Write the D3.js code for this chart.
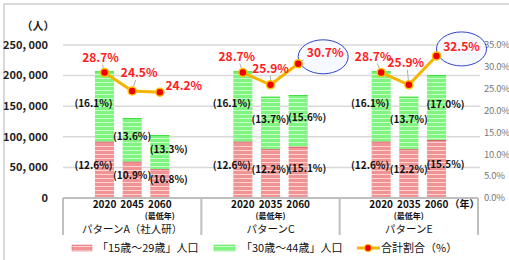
<!DOCTYPE html>
<html>
<head>
<meta charset="utf-8">
<script src="https://cdn.jsdelivr.net/npm/d3@7"></script>
<style>
  body { margin: 0; background: #fff; }
  svg { display: block; font-family: "Noto Sans CJK JP", "DejaVu Sans", sans-serif; }
</style>
</head>
<body>
<div id="chart"></div>
<script>
// chart data
const years = ['2020', '2045', '2060', '2020', '2035', '2060', '2020', '2035', '2060'];
const groupNames = ['パターンA（社人研）', 'パターンC', 'パターンE'];
const lowestYear = [false, false, true, false, true, false, false, true, false];
const youngPop = [92000, 59300, 46900, 92000, 79600, 83800, 92000, 79600, 94800];   // 15-29
const midPop = [115000, 71400, 56000, 115000, 85900, 84500, 115000, 85900, 106200];  // 30-44
const youngPct = ['12.6', '10.9', '10.8', '12.6', '12.2', '15.1', '12.6', '12.2', '15.5'];
const midPct = ['16.1', '13.6', '13.3', '16.1', '13.7', '15.6', '16.1', '13.7', '17.0'];
const totalPct = [28.7, 24.5, 24.2, 28.7, 25.9, 30.7, 28.7, 25.9, 32.5];
const leftTicks = [0, 50000, 100000, 150000, 200000, 250000];
const rightTicks = [0, 5, 10, 15, 20, 25, 30, 35];
const legendNames = ['「15歳～29歳」人口', '「30歳～44歳」人口', '合計割合（%）'];

const W = 509, H = 260;
const svg = d3.select('#chart').append('svg').attr('width', W).attr('height', H);

// outer frame
svg.append('rect').attr('x', 4).attr('y', 4).attr('width', 520).attr('height', 270)
    .attr('fill', 'none').attr('stroke', '#d9d9d9').attr('stroke-width', 2);

// stripe patterns
const defs = svg.append('defs');
function stripes(id, base) {
    const p = defs.append('pattern').attr('id', id).attr('patternUnits', 'userSpaceOnUse')
        .attr('width', 6).attr('height', 4);
    p.append('rect').attr('width', 6).attr('height', 4).attr('fill', base);
    p.append('rect').attr('y', 2).attr('width', 6).attr('height', 1).attr('fill', '#fff').attr('opacity', 0.6);
}
stripes('redStripe', '#f29393');
stripes('greenStripe', '#7ef57e');

const plotL = 63, plotR = 478, plotT = 45, plotB = 198;

// 15 slots: blank, 3 bars, blank per group
const slotOf = i => Math.floor(i / 3) * 5 + 1 + (i % 3);
const x = d3.scaleBand().domain(d3.range(15)).range([plotL, plotR]).paddingInner(0.31).paddingOuter(0.155);
const y = d3.scaleLinear().domain([0, 250000]).range([plotB, plotT]);
const y2 = d3.scaleLinear().domain([0, 35]).range([plotB, plotT]);
const cx = i => x(slotOf(i)) + x.bandwidth() / 2;

// gridlines
svg.append('g').selectAll('line').data(leftTicks.filter(d => d > 0)).join('line')
    .attr('x1', plotL).attr('x2', plotR + 2)
    .attr('y1', d => y(d)).attr('y2', d => y(d))
    .attr('stroke', '#d9d9d9').attr('stroke-width', 1.5);

// left axis labels
const fmt = d => d === 0 ? '0' : d3.format(',')(d).replace(',', ', ');
svg.append('g').selectAll('text').data(leftTicks).join('text')
    .attr('x', 48).attr('y', d => y(d)).attr('dy', '0.35em')
    .attr('text-anchor', 'end').attr('font-size', 11).attr('font-weight', 'bold').attr('fill', '#222')
    .text(fmt);
svg.append('text').attr('x', 38).attr('y', 26).attr('dy', '0.35em').attr('text-anchor', 'middle')
    .attr('font-size', 11).attr('font-weight', 'bold').attr('fill', '#222').text('（人）');

// right axis labels, squeezed to fit the window edge
svg.append('g').selectAll('text').data(rightTicks).join('text')
    .attr('x', 484).attr('y', d => y2(d)).attr('dy', '0.35em')
    .attr('font-size', 9.5).attr('letter-spacing', -0.3).attr('fill', '#777')
    .text(d => d.toFixed(1) + '%');

// bars
const bars = svg.append('g');
years.forEach((yr, i) => {
    const bx = x(slotOf(i)), bw = x.bandwidth();
    const yTop = y(youngPop[i]);
    const tTop = y(youngPop[i] + midPop[i]);
    bars.append('rect').attr('x', bx).attr('y', yTop).attr('width', bw).attr('height', plotB - yTop)
        .attr('fill', 'url(#redStripe)');
    bars.append('rect').attr('x', bx).attr('y', tTop).attr('width', bw).attr('height', yTop - tTop)
        .attr('fill', 'url(#greenStripe)');
    bars.append('line').attr('x1', bx).attr('x2', bx + bw).attr('y1', yTop + 0.5).attr('y2', yTop + 0.5)
        .attr('stroke', '#e06070').attr('stroke-width', 1);
    bars.append('line').attr('x1', bx).attr('x2', bx + bw).attr('y1', tTop + 0.5).attr('y2', tTop + 0.5)
        .attr('stroke', '#44dd44').attr('stroke-width', 1);
});

// bar share labels
const shift = [-11, 0, 9];
const segLabels = svg.append('g').attr('font-size', 10).attr('font-weight', 'bold').attr('fill', '#111')
    .attr('text-anchor', 'middle');
years.forEach((yr, i) => {
    const yTop = y(youngPop[i]);
    const tTop = y(youngPop[i] + midPop[i]);
    segLabels.append('text').attr('x', cx(i) + shift[i % 3]).attr('y', (tTop + yTop) / 2 - 3)
        .attr('dy', '0.35em').text(`(${midPct[i]}%)`);
    segLabels.append('text').attr('x', cx(i) + shift[i % 3]).attr('y', (yTop + plotB) / 2 - 4)
        .attr('dy', '0.35em').text(`(${youngPct[i]}%)`);
});

// x axis base and group separators
svg.append('line').attr('x1', plotL).attr('x2', plotR).attr('y1', plotB).attr('y2', plotB)
    .attr('stroke', '#bfbfbf').attr('stroke-width', 2);
const sepX = [plotL, (x(4) + x(5) + x.bandwidth()) / 2, (x(9) + x(10) + x.bandwidth()) / 2, plotR];
svg.append('g').selectAll('line').data(sepX).join('line')
    .attr('x1', d => d).attr('x2', d => d).attr('y1', plotB).attr('y2', 235)
    .attr('stroke', '#bfbfbf').attr('stroke-width', 2);

// year labels
svg.append('g').selectAll('text').data(years).join('text')
    .attr('x', (d, i) => cx(i)).attr('y', 204.5).attr('dy', '0.35em').attr('text-anchor', 'middle')
    .attr('font-size', 10).attr('font-weight', 'bold').attr('fill', '#111').text(d => d);
svg.append('g').selectAll('text').data(years.map((d, i) => i).filter(i => lowestYear[i])).join('text')
    .attr('x', i => cx(i)).attr('y', 216.5).attr('dy', '0.35em').attr('text-anchor', 'middle')
    .attr('font-size', 8).attr('font-weight', 'bold').attr('fill', '#111').text('(最低年)');
svg.append('text').attr('x', cx(8) + 13).attr('y', 204.5).attr('dy', '0.35em')
    .attr('font-size', 10).attr('font-weight', 'bold').attr('fill', '#111').text('（年）');
svg.append('g').selectAll('text').data(groupNames).join('text')
    .attr('x', (d, g) => (sepX[g] + sepX[g + 1]) / 2).attr('y', 229.5).attr('dy', '0.35em')
    .attr('text-anchor', 'middle').attr('font-size', 10.5).attr('fill', '#111').text(d => d);

// total share line, per group
const line = d3.line().x(i => cx(i)).y(i => y2(totalPct[i]));
[0, 1, 2].forEach(g => {
    svg.append('path').datum([g * 3, g * 3 + 1, g * 3 + 2])
        .attr('d', line).attr('fill', 'none').attr('stroke', '#f5b400').attr('stroke-width', 3);
});

// highlight ellipses
[5, 8].forEach(i => {
    svg.append('ellipse').attr('cx', cx(i) + 25).attr('cy', y2(totalPct[i]) - 7)
        .attr('rx', 25).attr('ry', 17)
        .attr('fill', '#f4f8ff').attr('fill-opacity', 0.85).attr('stroke', '#3344cc').attr('stroke-width', 1);
});

// label offsets [dx, dy] from point
const lblOff = [[-4, -15], [7, -18], [24, -6], [-6, -16], [0, -16], [27, -11], [-8, -16], [-3, -22], [25, -9]];
const pts = svg.append('g');
totalPct.forEach((v, i) => {
    const px = cx(i), py = y2(v);
    const [dx, dy] = lblOff[i];
    pts.append('line').attr('x1', px).attr('y1', py)
        .attr('x2', px + dx * 0.5 + (dx > 10 ? -8 : 0)).attr('y2', py + dy + 7)
        .attr('stroke', '#999').attr('stroke-width', 0.8);
});
totalPct.forEach((v, i) => {
    pts.append('circle').attr('cx', cx(i)).attr('cy', y2(v)).attr('r', 4)
        .attr('fill', '#ee0000').attr('stroke', '#ffc000').attr('stroke-width', 1.5);
});
totalPct.forEach((v, i) => {
    const [dx, dy] = lblOff[i];
    pts.append('text').attr('x', cx(i) + dx).attr('y', y2(v) + dy).attr('dy', '0.35em')
        .attr('text-anchor', 'middle').attr('font-size', 12).attr('font-weight', 'bold')
        .attr('fill', '#ff2020').text(v.toFixed(1) + '%');
});

// legend
const lg = svg.append('g').attr('font-size', 11).attr('fill', '#111');
lg.append('rect').attr('x', 72).attr('y', 245).attr('width', 20).attr('height', 6).attr('fill', 'url(#redStripe)')
    .attr('stroke', '#e06070').attr('stroke-width', 0.5);
lg.append('text').attr('x', 97).attr('y', 248).attr('dy', '0.35em').text(legendNames[0]);
lg.append('rect').attr('x', 214).attr('y', 245).attr('width', 21).attr('height', 6).attr('fill', 'url(#greenStripe)')
    .attr('stroke', '#44dd44').attr('stroke-width', 0.5);
lg.append('text').attr('x', 241).attr('y', 248).attr('dy', '0.35em').text(legendNames[1]);
lg.append('line').attr('x1', 357).attr('x2', 380).attr('y1', 248).attr('y2', 248)
    .attr('stroke', '#f5b400').attr('stroke-width', 3);
lg.append('circle').attr('cx', 368).attr('cy', 248).attr('r', 3.5)
    .attr('fill', '#ee0000').attr('stroke', '#ffc000').attr('stroke-width', 1.2);
lg.append('text').attr('x', 381).attr('y', 248).attr('dy', '0.35em').text(legendNames[2]);
</script>
</body>
</html>
